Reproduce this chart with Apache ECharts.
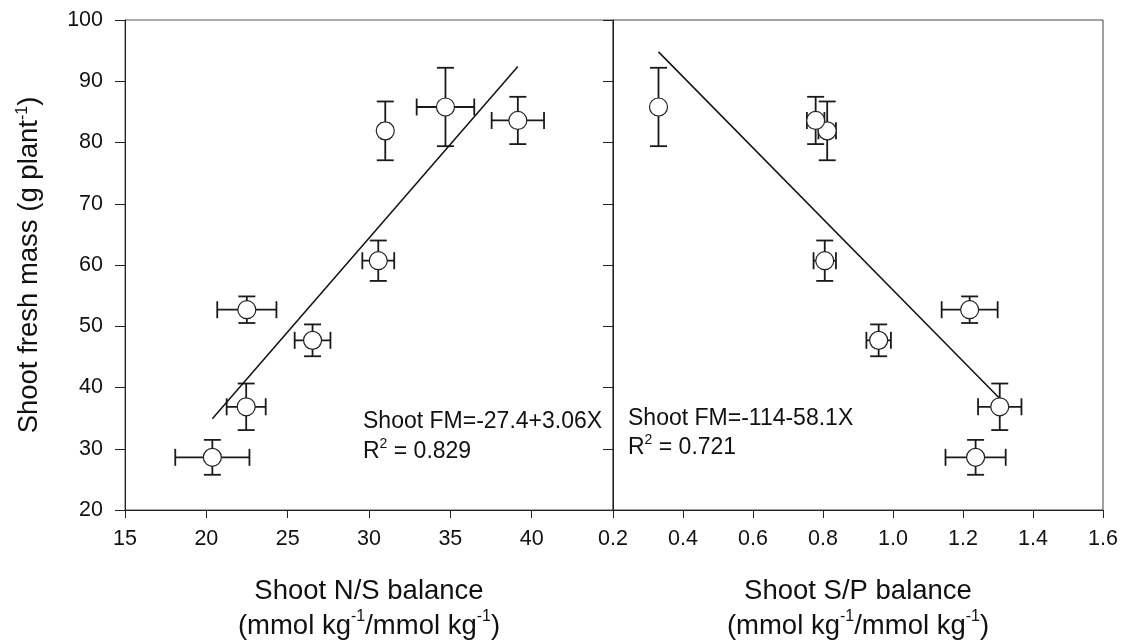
<!DOCTYPE html>
<html>
<head>
<meta charset="utf-8">
<script src="https://cdn.jsdelivr.net/npm/echarts@6/dist/echarts.min.js"></script>
<style>
  html, body { margin: 0; padding: 0; background: #fff; }
  #main { width: 1127px; height: 642px; }
</style>
</head>
<body>
<div id="main"></div>
<script>
// Shoot N/S balance panel (left)
const nsX = [20.37, 22.45, 22.49, 26.53, 30.57, 31.0, 34.7, 39.15]
const nsXErr = [2.28, 1.2, 1.82, 1.1, 0.98, 0.25, 1.77, 1.61]
// Shoot S/P balance panel (right), same treatments in the same order
const spX = [1.236, 1.305, 1.219, 0.959, 0.805, 0.812, 0.33, 0.779]
const spXErr = [0.086, 0.062, 0.08, 0.035, 0.032, 0.025, 0.01, 0.025]
// shoot fresh mass, shared by both panels
const fm = [28.6, 36.85, 52.7, 47.7, 60.7, 81.9, 85.8, 83.6]
const fmErr = [2.85, 3.8, 2.17, 2.6, 3.3, 4.8, 6.4, 3.86]

// regression line end points
const nsFit = [[20.37, 34.9], [39.15, 92.4]]
const spFit = [[0.33, 94.8], [1.305, 38.2]]

const nsTicks = [15, 20, 25, 30, 35, 40]
const spTicks = [0.2, 0.4, 0.6, 0.8, 1.0, 1.2, 1.4, 1.6]

const FONT = '"Liberation Sans", Arial, sans-serif'
const INK = '#111'

const chart = echarts.init(document.getElementById('main'), null, { renderer: 'canvas' })

const supRich = {
  sup: { fontSize: 16, fontFamily: FONT, color: INK, verticalAlign: 'top', lineHeight: 20 }
}

// error bars with caps, drawn under the circles
const errorBars = (params, api) => {
  const x = api.value(0)
  const y = api.value(1)
  const ex = api.value(2)
  const ey = api.value(3)
  const c = api.coord([x, y])
  const l = api.coord([x - ex, y])
  const r = api.coord([x + ex, y])
  const t = api.coord([x, y + ey])
  const b = api.coord([x, y - ey])
  const cap = 8.5
  const style = { stroke: '#1a1a1a', lineWidth: 1.8 }
  const seg = (x1, y1, x2, y2) => ({ type: 'line', shape: { x1, y1, x2, y2 }, style })
  return {
    type: 'group',
    children: [
      seg(l[0], c[1], r[0], c[1]),
      seg(l[0], c[1] - cap, l[0], c[1] + cap),
      seg(r[0], c[1] - cap, r[0], c[1] + cap),
      seg(c[0], t[1], c[0], b[1]),
      seg(c[0] - cap, t[1], c[0] + cap, t[1]),
      seg(c[0] - cap, b[1], c[0] + cap, b[1])
    ]
  }
}

const xAxisBase = (min, max, interval, idx, name) => ({
  type: 'value',
  gridIndex: idx,
  min, max, interval,
  name,
  nameLocation: 'middle',
  nameGap: 64,
  nameTextStyle: { fontSize: 27.5, fontFamily: FONT, color: INK, lineHeight: 35, rich: supRich },
  axisLine: { show: true, lineStyle: { color: '#222', width: 1 } },
  axisTick: { show: true, length: 8, lineStyle: { color: '#222' } },
  axisLabel: { fontSize: 21.5, fontFamily: FONT, color: INK, margin: 18 },
  splitLine: { show: false }
})

const yAxisBase = (idx, showLabels) => ({
  type: 'value',
  gridIndex: idx,
  min: 20, max: 100, interval: 10,
  axisLine: { show: true, lineStyle: { color: '#222', width: 1 } },
  axisTick: { show: true, length: 10, lineStyle: { color: '#222' } },
  axisLabel: { show: showLabels, fontSize: 21.5, fontFamily: FONT, color: INK, margin: 22 },
  splitLine: { show: false }
})

const leftX = xAxisBase(15, 45, 5, 0, 'Shoot N/S balance\n(mmol kg{sup|-1}/mmol kg{sup|-1})')
leftX.axisLabel.showMaxLabel = false
leftX.axisLabel.formatter = v => (nsTicks.includes(v) ? String(v) : '')

const rightX = xAxisBase(0.2, 1.6, 0.2, 1, 'Shoot S/P balance\n(mmol kg{sup|-1}/mmol kg{sup|-1})')
rightX.axisLabel.formatter = v => {
  const s = v.toFixed(1)
  return spTicks.some(t => t.toFixed(1) === s) ? s : ''
}

const leftY = yAxisBase(0, true)
leftY.name = 'Shoot fresh mass (g plant{sup|-1})'
leftY.nameLocation = 'middle'
leftY.nameRotate = 90
leftY.nameGap = 82
leftY.nameTextStyle = { fontSize: 27.5, fontFamily: FONT, color: INK, rich: supRich }

const rightY = yAxisBase(1, false)

const pointStyle = {
  symbol: 'circle',
  symbolSize: 18,
  itemStyle: { color: '#fff', opacity: 1, borderColor: '#222', borderWidth: 1.2 },
  emphasis: { disabled: true }
}

const option = {
  backgroundColor: '#fff',
  animation: false,
  grid: [
    { left: 125, top: 20, width: 488, height: 490, containLabel: false, outerBoundsMode: 'none',
      show: true, borderColor: '#555', borderWidth: 1 },
    { left: 613, top: 20, width: 490, height: 490, containLabel: false, outerBoundsMode: 'none',
      show: true, borderColor: '#444', borderWidth: 1 }
  ],
  xAxis: [leftX, rightX],
  yAxis: [leftY, rightY],
  graphic: [
    {
      type: 'text', left: 363, top: 407,
      style: {
        text: 'Shoot FM=-27.4+3.06X\nR{sup|2} = 0.829',
        fontSize: 23, fontFamily: FONT, fill: INK, lineHeight: 30,
        rich: { sup: { fontSize: 14, fontFamily: FONT, fill: INK, verticalAlign: 'top', lineHeight: 18 } }
      }
    },
    {
      type: 'text', left: 628, top: 404,
      style: {
        text: 'Shoot FM=-114-58.1X\nR{sup|2} = 0.721',
        fontSize: 23, fontFamily: FONT, fill: INK, lineHeight: 29,
        rich: { sup: { fontSize: 14, fontFamily: FONT, fill: INK, verticalAlign: 'top', lineHeight: 18 } }
      }
    }
  ],
  series: [
    {
      type: 'line', xAxisIndex: 0, yAxisIndex: 0,
      data: nsFit, symbol: 'none',
      lineStyle: { color: '#111', width: 1.5 }
    },
    {
      type: 'line', xAxisIndex: 1, yAxisIndex: 1,
      data: spFit, symbol: 'none',
      lineStyle: { color: '#111', width: 1.5 }
    },
    {
      type: 'custom', xAxisIndex: 0, yAxisIndex: 0,
      renderItem: errorBars,
      encode: { x: 0, y: 1 },
      data: nsX.map((x, i) => [x, fm[i], nsXErr[i], fmErr[i]])
    },
    {
      type: 'custom', xAxisIndex: 1, yAxisIndex: 1,
      renderItem: errorBars,
      encode: { x: 0, y: 1 },
      data: spX.map((x, i) => [x, fm[i], spXErr[i], fmErr[i]])
    },
    Object.assign({
      type: 'scatter', xAxisIndex: 0, yAxisIndex: 0, z: 5,
      data: nsX.map((x, i) => [x, fm[i]])
    }, pointStyle),
    Object.assign({
      type: 'scatter', xAxisIndex: 1, yAxisIndex: 1, z: 5,
      data: spX.map((x, i) => [x, fm[i]])
    }, pointStyle)
  ]
}

chart.setOption(option)
window.addEventListener('resize', () => chart.resize())
</script>
</body>
</html>
